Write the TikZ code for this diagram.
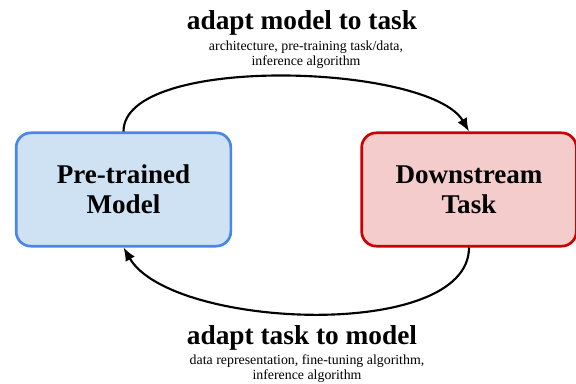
\documentclass[tikz,border=0pt]{standalone}
\usepackage{fontspec}
\setmainfont{Liberation Serif}
\usetikzlibrary{arrows.meta,positioning}

\definecolor{modelfill}{HTML}{CFE2F3}
\definecolor{modeldraw}{HTML}{4A86E8}
\definecolor{taskfill}{HTML}{F4CCCC}
\definecolor{taskdraw}{HTML}{CC0000}

\begin{document}
\begin{tikzpicture}[x=0.75pt, y=0.75pt,
		box/.style={draw, line width=2pt, rounded corners=11pt, minimum width=161pt, minimum height=85pt, align=center, font=\fontsize{20.3}{22.5}\selectfont\bfseries},
		head/.style={font=\fontsize{20.5}{24}\selectfont\bfseries},
		sub/.style={align=center, font=\fontsize{10.4}{11.25}\selectfont},
		loop/.style={->, >={Latex[length=10pt, width=8pt]}, line width=1.6pt}]
		\useasboundingbox (0,0) rectangle (576,383);
		\draw (123.5,193.5) node [box, fill=modelfill, draw=modeldraw] (model) {Pre-trained\\Model};
		\draw (469,193.5) node [box, fill=taskfill, draw=taskdraw] (task) {Downstream\\Task};
		\draw (302,360) node [head] (toptitle) {adapt model to task};
		\draw (306,328.5) node [sub] (topnote) {architecture, pre-training task/data,\\inference algorithm};
		\draw (302,45) node [head] (bottitle) {adapt task to model};
		\draw (307,14) node [sub] (botnote) {data representation, fine-tuning algorithm,\\inference algorithm};
		\path[loop]
			(model.north) edge [out=90, in=120, looseness=0.58] (task.north)
			(task.south) edge [out=-90, in=-60, looseness=0.7] (model.south);
	\end{tikzpicture}
\end{document}
